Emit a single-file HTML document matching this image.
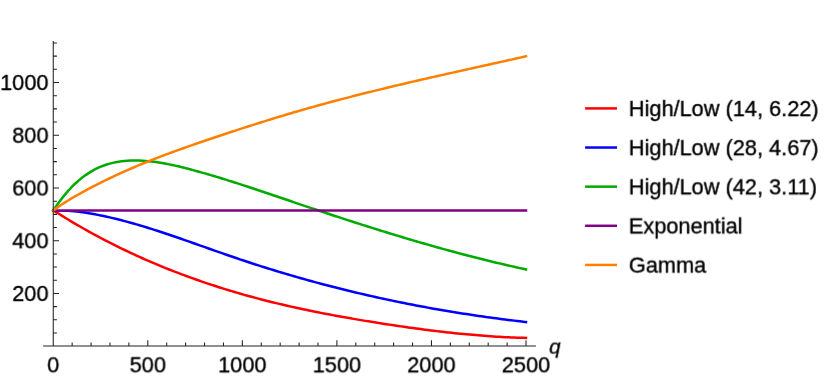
<!DOCTYPE html><html><head><meta charset="utf-8"><style>
html,body{margin:0;padding:0;background:#fff}
body{width:830px;height:381px;position:relative;overflow:hidden;font-family:"Liberation Sans",sans-serif;color:#000}
.t{position:absolute;left:0;top:0;font-size:21.75px;line-height:1;white-space:nowrap;will-change:transform;transform-origin:0 0;-webkit-text-stroke:0.35px #000}
</style></head><body>
<svg width="830" height="381" viewBox="0 0 830 381" style="position:absolute;left:0;top:0">
<defs><clipPath id="cb"><rect x="0" y="210" width="830" height="171"/></clipPath></defs>
<path d="M53.25,210.40 L56.22,212.18 L59.20,214.05 L62.17,215.90 L65.14,217.72 L68.12,219.53 L71.09,221.31 L74.06,223.07 L77.04,224.81 L80.01,226.54 L82.98,228.24 L85.96,229.92 L88.93,231.58 L91.90,233.22 L94.88,234.84 L97.85,236.44 L100.82,238.02 L103.80,239.58 L106.77,241.13 L109.74,242.65 L112.72,244.16 L115.69,245.65 L118.66,247.12 L121.64,248.57 L124.61,250.00 L127.58,251.42 L130.56,252.82 L133.53,254.20 L136.50,255.56 L139.47,256.91 L142.45,258.24 L145.42,259.55 L148.39,260.85 L151.37,262.13 L154.34,263.39 L157.31,264.64 L160.29,265.87 L163.26,267.09 L166.23,268.29 L169.21,269.48 L172.18,270.65 L175.15,271.81 L178.13,272.95 L181.10,274.08 L184.07,275.19 L187.05,276.29 L190.02,277.37 L192.99,278.44 L195.97,279.50 L198.94,280.54 L201.91,281.57 L204.89,282.59 L207.86,283.59 L210.83,284.58 L213.81,285.56 L216.78,286.52 L219.75,287.47 L222.73,288.40 L225.70,289.33 L228.67,290.24 L231.65,291.13 L234.62,292.02 L237.59,292.89 L240.57,293.75 L243.54,294.60 L246.51,295.43 L249.49,296.25 L252.46,297.06 L255.43,297.86 L258.41,298.65 L261.38,299.43 L264.35,300.19 L267.33,300.95 L270.30,301.69 L273.27,302.42 L276.25,303.15 L279.22,303.86 L282.19,304.56 L285.17,305.25 L288.14,305.94 L291.11,306.61 L294.08,307.27 L297.06,307.93 L300.03,308.58 L303.00,309.21 L305.98,309.84 L308.95,310.46 L311.92,311.07 L314.90,311.68 L317.87,312.27 L320.84,312.86 L323.82,313.44 L326.79,314.01 L329.76,314.58 L332.74,315.14 L335.71,315.69 L338.68,316.23 L341.66,316.77 L344.63,317.30 L347.60,317.83 L350.58,318.35 L353.55,318.86 L356.52,319.37 L359.50,319.87 L362.47,320.37 L365.44,320.86 L368.42,321.34 L371.39,321.83 L374.36,322.30 L377.34,322.77 L380.31,323.24 L383.28,323.70 L386.26,324.16 L389.23,324.62 L392.20,325.06 L395.18,325.51 L398.15,325.95 L401.12,326.38 L404.10,326.81 L407.07,327.23 L410.04,327.64 L413.02,328.06 L415.99,328.46 L418.96,328.86 L421.94,329.25 L424.91,329.64 L427.88,330.02 L430.86,330.39 L433.83,330.76 L436.80,331.12 L439.78,331.48 L442.75,331.82 L445.72,332.16 L448.69,332.50 L451.67,332.82 L454.64,333.14 L457.61,333.44 L460.59,333.75 L463.56,334.04 L466.53,334.32 L469.51,334.59 L472.48,334.86 L475.45,335.12 L478.43,335.36 L481.40,335.60 L484.37,335.83 L487.35,336.05 L490.32,336.26 L493.29,336.45 L496.27,336.64 L499.24,336.82 L502.21,336.98 L505.19,337.14 L508.16,337.28 L511.13,337.42 L514.11,337.54 L517.08,337.65 L520.05,337.75 L523.03,337.83 L526.00,337.91" fill="none" stroke="#ff0000" stroke-width="2.5" stroke-linejoin="round" stroke-linecap="square"/>
<path d="M53.25,210.40 L56.22,210.36 L59.20,210.38 L62.17,210.45 L65.14,210.58 L68.12,210.75 L71.09,210.98 L74.06,211.25 L77.04,211.57 L80.01,211.93 L82.98,212.33 L85.96,212.77 L88.93,213.25 L91.90,213.75 L94.88,214.29 L97.85,214.86 L100.82,215.46 L103.80,216.08 L106.77,216.73 L109.74,217.40 L112.72,218.10 L115.69,218.81 L118.66,219.55 L121.64,220.31 L124.61,221.09 L127.58,221.89 L130.56,222.71 L133.53,223.55 L136.50,224.40 L139.47,225.27 L142.45,226.16 L145.42,227.06 L148.39,227.98 L151.37,228.91 L154.34,229.85 L157.31,230.80 L160.29,231.77 L163.26,232.75 L166.23,233.74 L169.21,234.73 L172.18,235.74 L175.15,236.75 L178.13,237.77 L181.10,238.80 L184.07,239.83 L187.05,240.87 L190.02,241.91 L192.99,242.96 L195.97,244.01 L198.94,245.06 L201.91,246.11 L204.89,247.16 L207.86,248.21 L210.83,249.26 L213.81,250.31 L216.78,251.36 L219.75,252.40 L222.73,253.44 L225.70,254.47 L228.67,255.50 L231.65,256.53 L234.62,257.54 L237.59,258.55 L240.57,259.56 L243.54,260.55 L246.51,261.53 L249.49,262.51 L252.46,263.48 L255.43,264.44 L258.41,265.40 L261.38,266.35 L264.35,267.29 L267.33,268.22 L270.30,269.14 L273.27,270.06 L276.25,270.96 L279.22,271.87 L282.19,272.76 L285.17,273.64 L288.14,274.52 L291.11,275.39 L294.08,276.26 L297.06,277.11 L300.03,277.96 L303.00,278.80 L305.98,279.63 L308.95,280.46 L311.92,281.28 L314.90,282.09 L317.87,282.89 L320.84,283.69 L323.82,284.48 L326.79,285.26 L329.76,286.03 L332.74,286.80 L335.71,287.56 L338.68,288.31 L341.66,289.06 L344.63,289.80 L347.60,290.53 L350.58,291.25 L353.55,291.97 L356.52,292.68 L359.50,293.38 L362.47,294.07 L365.44,294.76 L368.42,295.44 L371.39,296.12 L374.36,296.79 L377.34,297.45 L380.31,298.10 L383.28,298.75 L386.26,299.39 L389.23,300.02 L392.20,300.64 L395.18,301.26 L398.15,301.87 L401.12,302.48 L404.10,303.08 L407.07,303.67 L410.04,304.25 L413.02,304.83 L415.99,305.40 L418.96,305.97 L421.94,306.53 L424.91,307.08 L427.88,307.62 L430.86,308.16 L433.83,308.69 L436.80,309.22 L439.78,309.74 L442.75,310.25 L445.72,310.75 L448.69,311.25 L451.67,311.74 L454.64,312.23 L457.61,312.71 L460.59,313.18 L463.56,313.65 L466.53,314.11 L469.51,314.56 L472.48,315.01 L475.45,315.45 L478.43,315.89 L481.40,316.31 L484.37,316.74 L487.35,317.15 L490.32,317.56 L493.29,317.97 L496.27,318.36 L499.24,318.75 L502.21,319.14 L505.19,319.52 L508.16,319.89 L511.13,320.26 L514.11,320.62 L517.08,320.97 L520.05,321.32 L523.03,321.66 L526.00,322.00" fill="none" stroke="#0000ff" stroke-width="2.5" stroke-linejoin="round" stroke-linecap="square" clip-path="url(#cb)"/>
<path d="M53.25,210.40 L56.22,206.20 L59.20,202.01 L62.17,198.08 L65.14,194.39 L68.12,190.94 L71.09,187.73 L74.06,184.73 L77.04,181.96 L80.01,179.39 L82.98,177.03 L85.96,174.86 L88.93,172.88 L91.90,171.07 L94.88,169.44 L97.85,167.98 L100.82,166.67 L103.80,165.51 L106.77,164.49 L109.74,163.61 L112.72,162.85 L115.69,162.21 L118.66,161.69 L121.64,161.27 L124.61,160.95 L127.58,160.71 L130.56,160.56 L133.53,160.49 L136.50,160.48 L139.47,160.55 L142.45,160.68 L145.42,160.88 L148.39,161.14 L151.37,161.45 L154.34,161.82 L157.31,162.23 L160.29,162.70 L163.26,163.21 L166.23,163.77 L169.21,164.36 L172.18,164.99 L175.15,165.65 L178.13,166.34 L181.10,167.05 L184.07,167.79 L187.05,168.55 L190.02,169.33 L192.99,170.12 L195.97,170.93 L198.94,171.75 L201.91,172.58 L204.89,173.42 L207.86,174.28 L210.83,175.15 L213.81,176.03 L216.78,176.92 L219.75,177.82 L222.73,178.73 L225.70,179.65 L228.67,180.57 L231.65,181.51 L234.62,182.46 L237.59,183.41 L240.57,184.37 L243.54,185.33 L246.51,186.30 L249.49,187.28 L252.46,188.26 L255.43,189.25 L258.41,190.24 L261.38,191.24 L264.35,192.24 L267.33,193.24 L270.30,194.24 L273.27,195.25 L276.25,196.26 L279.22,197.26 L282.19,198.27 L285.17,199.28 L288.14,200.29 L291.11,201.30 L294.08,202.31 L297.06,203.32 L300.03,204.32 L303.00,205.32 L305.98,206.32 L308.95,207.32 L311.92,208.32 L314.90,209.31 L317.87,210.30 L320.84,211.29 L323.82,212.28 L326.79,213.26 L329.76,214.24 L332.74,215.22 L335.71,216.20 L338.68,217.17 L341.66,218.14 L344.63,219.11 L347.60,220.07 L350.58,221.03 L353.55,221.99 L356.52,222.95 L359.50,223.90 L362.47,224.84 L365.44,225.79 L368.42,226.73 L371.39,227.66 L374.36,228.60 L377.34,229.53 L380.31,230.45 L383.28,231.37 L386.26,232.29 L389.23,233.20 L392.20,234.11 L395.18,235.01 L398.15,235.91 L401.12,236.81 L404.10,237.70 L407.07,238.59 L410.04,239.47 L413.02,240.34 L415.99,241.22 L418.96,242.08 L421.94,242.95 L424.91,243.80 L427.88,244.65 L430.86,245.50 L433.83,246.34 L436.80,247.18 L439.78,248.01 L442.75,248.84 L445.72,249.65 L448.69,250.47 L451.67,251.28 L454.64,252.08 L457.61,252.88 L460.59,253.67 L463.56,254.45 L466.53,255.23 L469.51,256.00 L472.48,256.77 L475.45,257.53 L478.43,258.28 L481.40,259.03 L484.37,259.77 L487.35,260.50 L490.32,261.23 L493.29,261.95 L496.27,262.67 L499.24,263.37 L502.21,264.07 L505.19,264.77 L508.16,265.45 L511.13,266.13 L514.11,266.80 L517.08,267.46 L520.05,268.12 L523.03,268.77 L526.00,269.41" fill="none" stroke="#00aa00" stroke-width="2.5" stroke-linejoin="round" stroke-linecap="square"/>
<path d="M53.25,210.4 L526.00,210.4" fill="none" stroke="#800080" stroke-width="2.5" stroke-linejoin="round" stroke-linecap="square"/>
<path d="M53.25,210.40 L56.22,208.35 L59.20,206.29 L62.17,204.30 L65.14,202.37 L68.12,200.50 L71.09,198.69 L74.06,196.93 L77.04,195.21 L80.01,193.54 L82.98,191.90 L85.96,190.29 L88.93,188.71 L91.90,187.15 L94.88,185.62 L97.85,184.10 L100.82,182.61 L103.80,181.13 L106.77,179.68 L109.74,178.25 L112.72,176.83 L115.69,175.44 L118.66,174.06 L121.64,172.71 L124.61,171.37 L127.58,170.06 L130.56,168.76 L133.53,167.48 L136.50,166.22 L139.47,164.97 L142.45,163.75 L145.42,162.53 L148.39,161.34 L151.37,160.16 L154.34,158.99 L157.31,157.84 L160.29,156.70 L163.26,155.57 L166.23,154.45 L169.21,153.35 L172.18,152.25 L175.15,151.17 L178.13,150.09 L181.10,149.02 L184.07,147.96 L187.05,146.91 L190.02,145.87 L192.99,144.83 L195.97,143.79 L198.94,142.77 L201.91,141.74 L204.89,140.73 L207.86,139.72 L210.83,138.71 L213.81,137.71 L216.78,136.71 L219.75,135.72 L222.73,134.73 L225.70,133.75 L228.67,132.77 L231.65,131.79 L234.62,130.82 L237.59,129.85 L240.57,128.89 L243.54,127.93 L246.51,126.97 L249.49,126.02 L252.46,125.07 L255.43,124.12 L258.41,123.19 L261.38,122.25 L264.35,121.32 L267.33,120.40 L270.30,119.48 L273.27,118.56 L276.25,117.65 L279.22,116.75 L282.19,115.85 L285.17,114.96 L288.14,114.07 L291.11,113.19 L294.08,112.32 L297.06,111.45 L300.03,110.59 L303.00,109.74 L305.98,108.89 L308.95,108.04 L311.92,107.21 L314.90,106.38 L317.87,105.55 L320.84,104.74 L323.82,103.92 L326.79,103.11 L329.76,102.31 L332.74,101.52 L335.71,100.72 L338.68,99.94 L341.66,99.16 L344.63,98.38 L347.60,97.61 L350.58,96.84 L353.55,96.08 L356.52,95.32 L359.50,94.57 L362.47,93.82 L365.44,93.07 L368.42,92.33 L371.39,91.60 L374.36,90.86 L377.34,90.13 L380.31,89.41 L383.28,88.69 L386.26,87.97 L389.23,87.25 L392.20,86.54 L395.18,85.83 L398.15,85.13 L401.12,84.43 L404.10,83.73 L407.07,83.03 L410.04,82.34 L413.02,81.64 L415.99,80.96 L418.96,80.27 L421.94,79.59 L424.91,78.90 L427.88,78.22 L430.86,77.55 L433.83,76.87 L436.80,76.20 L439.78,75.52 L442.75,74.85 L445.72,74.18 L448.69,73.51 L451.67,72.85 L454.64,72.18 L457.61,71.52 L460.59,70.85 L463.56,70.19 L466.53,69.53 L469.51,68.87 L472.48,68.21 L475.45,67.54 L478.43,66.88 L481.40,66.22 L484.37,65.56 L487.35,64.91 L490.32,64.25 L493.29,63.59 L496.27,62.93 L499.24,62.26 L502.21,61.60 L505.19,60.94 L508.16,60.28 L511.13,59.62 L514.11,58.95 L517.08,58.29 L520.05,57.62 L523.03,56.96 L526.00,56.29" fill="none" stroke="#ff8000" stroke-width="2.5" stroke-linejoin="round" stroke-linecap="square"/>
<path d="M43.1,346.0 L535.9,346.0 M53.25,346.5 L53.25,41.1 M53.25,346.0 L53.25,340.2 M72.16,346.0 L72.16,342.4 M91.07,346.0 L91.07,342.4 M109.98,346.0 L109.98,342.4 M128.89,346.0 L128.89,342.4 M147.80,346.0 L147.80,340.2 M166.71,346.0 L166.71,342.4 M185.62,346.0 L185.62,342.4 M204.53,346.0 L204.53,342.4 M223.44,346.0 L223.44,342.4 M242.35,346.0 L242.35,340.2 M261.26,346.0 L261.26,342.4 M280.17,346.0 L280.17,342.4 M299.08,346.0 L299.08,342.4 M317.99,346.0 L317.99,342.4 M336.90,346.0 L336.90,340.2 M355.81,346.0 L355.81,342.4 M374.72,346.0 L374.72,342.4 M393.63,346.0 L393.63,342.4 M412.54,346.0 L412.54,342.4 M431.45,346.0 L431.45,340.2 M450.36,346.0 L450.36,342.4 M469.27,346.0 L469.27,342.4 M488.18,346.0 L488.18,342.4 M507.09,346.0 L507.09,342.4 M526.00,346.0 L526.00,340.2 M53.25,333.01 L56.9,333.01 M53.25,319.83 L56.9,319.83 M53.25,306.64 L56.9,306.64 M53.25,293.46 L59.0,293.46 M53.25,280.27 L56.9,280.27 M53.25,267.09 L56.9,267.09 M53.25,253.90 L56.9,253.90 M53.25,240.72 L59.0,240.72 M53.25,227.53 L56.9,227.53 M53.25,214.35 L56.9,214.35 M53.25,201.16 L56.9,201.16 M53.25,187.98 L59.0,187.98 M53.25,174.79 L56.9,174.79 M53.25,161.61 L56.9,161.61 M53.25,148.42 L56.9,148.42 M53.25,135.24 L59.0,135.24 M53.25,122.06 L56.9,122.06 M53.25,108.87 L56.9,108.87 M53.25,95.69 L56.9,95.69 M53.25,82.50 L59.0,82.50 M53.25,69.31 L56.9,69.31 M53.25,56.13 L56.9,56.13 M53.25,42.94 L56.9,42.94" fill="none" stroke="#222222" stroke-width="1.05"/>
<path d="M585.1,108.40 L617.0,108.40" stroke="#ff0000" stroke-width="2.5" fill="none"/>
<path d="M585.1,147.53 L617.0,147.53" stroke="#0000ff" stroke-width="2.5" fill="none"/>
<path d="M585.1,186.66 L617.0,186.66" stroke="#00aa00" stroke-width="2.5" fill="none"/>
<path d="M585.1,225.79 L617.0,225.79" stroke="#800080" stroke-width="2.5" fill="none"/>
<path d="M585.1,264.92 L617.0,264.92" stroke="#ff8000" stroke-width="2.5" fill="none"/>
</svg>
<div class="t" style="transform:translate(12.26px,282.98px) rotate(0.001deg);">200</div>
<div class="t" style="transform:translate(12.26px,230.25px) rotate(0.001deg);">400</div>
<div class="t" style="transform:translate(12.26px,177.50px) rotate(0.001deg);">600</div>
<div class="t" style="transform:translate(12.26px,124.77px) rotate(0.001deg);">800</div>
<div class="t" style="transform:translate(0.16px,72.03px) rotate(0.001deg);">1000</div>
<div class="t" style="transform:translate(47.20px,354.32px) rotate(0.001deg);">0</div>
<div class="t" style="transform:translate(129.66px,354.32px) rotate(0.001deg);">500</div>
<div class="t" style="transform:translate(218.16px,354.32px) rotate(0.001deg);">1000</div>
<div class="t" style="transform:translate(312.71px,354.32px) rotate(0.001deg);">1500</div>
<div class="t" style="transform:translate(407.26px,354.32px) rotate(0.001deg);">2000</div>
<div class="t" style="transform:translate(501.81px,354.32px) rotate(0.001deg);">2500</div>
<div class="t" style="transform:translate(549.20px,336.65px) rotate(0.001deg);font-style:italic;font-size:20.5px">q</div>
<div class="t" style="transform:translate(628.80px,98.08px) rotate(0.001deg);">High/Low (14, 6.22)</div>
<div class="t" style="transform:translate(628.80px,137.21px) rotate(0.001deg);">High/Low (28, 4.67)</div>
<div class="t" style="transform:translate(628.80px,176.34px) rotate(0.001deg);">High/Low (42, 3.11)</div>
<div class="t" style="transform:translate(628.80px,215.47px) rotate(0.001deg);">Exponential</div>
<div class="t" style="transform:translate(628.80px,254.60px) rotate(0.001deg);">Gamma</div>
</body></html>
